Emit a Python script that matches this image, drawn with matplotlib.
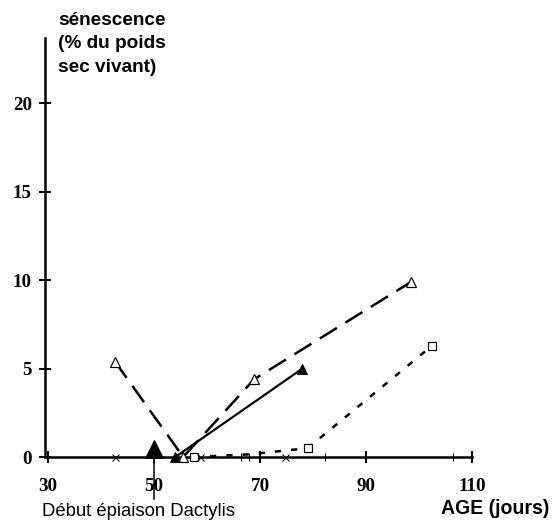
import matplotlib
matplotlib.use("Agg")
import matplotlib.pyplot as plt

# Data
tri_open_x = [42.6, 55.5, 68.9, 98.5]
tri_open_y = [5.4, 0.0, 4.4, 9.9]
tri_fill_x = [54.0, 78.0]
tri_fill_y = [0.0, 5.0]
sq_x = [57.5, 68.0, 79.0, 102.5]
sq_y = [0.0, 0.15, 0.5, 6.3]
sq_marked = [0, 2, 3]
cross_x = [42.6, 58.7, 74.7]
cross_y = [0, 0, 0]
plus_x = [66.5, 68.0, 82.3, 106.4]
plus_y = [0, 0, 0, 0]
heading_x = 50
xticks = [30, 50, 70, 90, 110]
yticks = [0, 5, 10, 15, 20]

W, H = 558, 524
fig = plt.figure(figsize=(W / 72, H / 72), dpi=72)
ax = fig.add_axes([45 / W, (H - 457) / H, (474 - 45) / W, (457 - 38) / H])
ax.set_xlim(29.4, 110.4)
ax.set_ylim(0, 23.7)

for s in ["top", "right"]:
    ax.spines[s].set_visible(False)
for s in ["left", "bottom"]:
    ax.spines[s].set_linewidth(2.5)
ax.spines["bottom"].set_bounds(29.4, 110)

tick_font = dict(fontfamily="Liberation Serif", fontweight="bold", fontsize=19)
ax.set_xticks(xticks, labels=[str(v) for v in xticks], **tick_font)
ax.set_yticks(yticks, labels=[str(v) for v in yticks], **tick_font)
ax.tick_params(axis="both", direction="inout", length=12, width=2, colors="black")
ax.tick_params(axis="x", pad=15)
ax.tick_params(axis="y", pad=7)

# open triangles, long dashes
ax.plot(tri_open_x, tri_open_y, color="black", lw=2.5, dashes=(8, 4),
        marker="^", mfc="white", mec="black", ms=10, mew=1.2, clip_on=False, zorder=3)
# filled triangles, solid
ax.plot(tri_fill_x, tri_fill_y, color="black", lw=2.2, marker="^", mfc="black",
        mec="black", ms=10, clip_on=False, zorder=3)
# squares, short dashes
ax.plot(sq_x, sq_y, color="black", lw=2.5, dashes=(2.5, 4), clip_on=False, zorder=3)
ax.plot([sq_x[i] for i in sq_marked], [sq_y[i] for i in sq_marked], ls="none",
        marker="s", mfc="white", mec="black", ms=8, mew=1.2, clip_on=False, zorder=4)
# crosses
ax.plot(cross_x, cross_y, ls="none", marker="x", color="black", ms=7, mew=1,
        clip_on=False, zorder=4)
# plus
ax.plot(plus_x, plus_y, ls="none", marker="|", color="black", ms=8, mew=1,
        clip_on=False, zorder=4)

# heading marker
ax.plot([heading_x], [0.45], marker="^", color="black", ms=18, clip_on=False, zorder=5)
ax.plot([heading_x, heading_x], [0, -2.4], color="black", lw=1.5, clip_on=False, zorder=5)

fig.text(58 / W, 1 - 12 / H, "sénescence\n(% du poids\nsec vivant)", ha="left", va="top",
         fontsize=19, fontweight="bold", family="Liberation Sans", linespacing=1.5)
fig.text(139 / W, 1 - 512 / H, "Début épiaison Dactylis", ha="center", va="center",
         fontsize=18.5, family="Liberation Sans")
fig.text(495 / W, 1 - 509 / H, "AGE (jours)", ha="center", va="center",
         fontsize=19.5, fontweight="bold", family="Liberation Sans")

fig.savefig("out.png", dpi=72)
